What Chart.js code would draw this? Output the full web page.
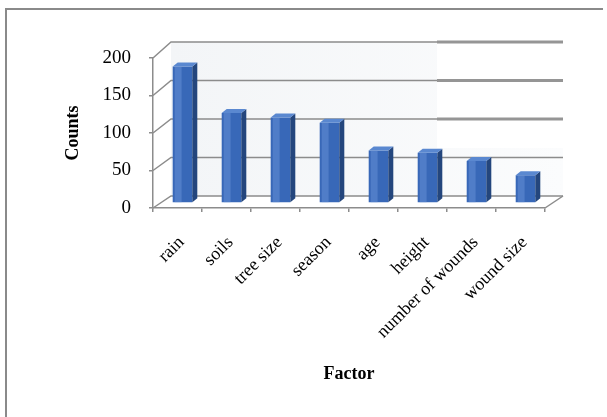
<!DOCTYPE html>
<html>
<head>
<meta charset="utf-8">
<script src="https://cdn.jsdelivr.net/npm/chart.js@4.4.1/dist/chart.umd.min.js"></script>
<style>
  html, body { margin: 0; padding: 0; background: #fff; }
  canvas { display: block; }
</style>
</head>
<body>
<canvas id="factorChart" width="607" height="417"></canvas>
<script>
// Data
const categories = ["rain", "soils", "tree size", "season", "age", "height", "number of wounds", "wound size"];
const counts = [182, 120, 114, 107, 70, 67, 56, 37];
const yTicks = [0, 50, 100, 150, 200];

const serif = "'Liberation Serif', 'Times New Roman', serif";
const gridGray = "#8c8c8c";

// fake 3D depth: back wall offset and bar offset
const wallDx = 18;
const barDx = 5, barDy = -5;
const faceDx = 5, faceDy = -4;

// back wall y from front y (a bit of perspective like Excel)
const backY = (yf, area) => {
  const base = area.bottom - 12;
  return base - (area.bottom - yf) * (154 / 150);
};

const frame = {
  id: "frame",
  beforeDraw(chart) {
    const ctx = chart.ctx;
    ctx.save();
    ctx.fillStyle = "#fff";
    ctx.fillRect(0, 0, chart.width, chart.height);
    ctx.strokeStyle = "#8a8a8a";
    ctx.lineWidth = 2;
    ctx.beginPath();
    ctx.moveTo(6, chart.height);
    ctx.lineTo(6, 9);
    ctx.lineTo(603, 9);
    ctx.stroke();
    ctx.restore();
  },
};

const walls3d = {
  id: "walls3d",
  beforeDatasetsDraw(chart) {
    const ctx = chart.ctx;
    const area = chart.chartArea;
    const y = chart.scales.y;
    const left = area.left, right = area.right;
    ctx.save();

    // back wall
    const topB = backY(y.getPixelForValue(200), area);
    const botB = backY(y.getPixelForValue(0), area);
    const g = ctx.createLinearGradient(left + wallDx, 0, right + wallDx, 0);
    g.addColorStop(0, "#f3f5f7");
    g.addColorStop(1, "#fbfcfd");
    ctx.fillStyle = g;
    ctx.fillRect(left + wallDx, topB, right - left, botB - topB);

    ctx.strokeStyle = gridGray;
    ctx.lineWidth = 1.5;
    yTicks.forEach((v) => {
      const yf = y.getPixelForValue(v);
      const yb = backY(yf, area);
      ctx.beginPath();
      ctx.moveTo(left, yf);
      ctx.lineTo(left + wallDx, yb);
      ctx.lineTo(right + wallDx, yb);
      ctx.stroke();
    });
    // floor right edge
    ctx.beginPath();
    ctx.moveTo(right, area.bottom);
    ctx.lineTo(right + wallDx, botB);
    ctx.stroke();

    // the pasted-over strip on the right of the original
    const cut = 437;
    ctx.fillStyle = "#fff";
    ctx.fillRect(cut, 28, right + wallDx - cut + 1, 120);
    ctx.strokeStyle = "#959595";
    ctx.lineWidth = 3;
    [100, 150, 200].forEach((v) => {
      const yb = backY(y.getPixelForValue(v), area);
      ctx.beginPath();
      ctx.moveTo(cut, yb);
      ctx.lineTo(right + wallDx, yb);
      ctx.stroke();
    });

    // bars sit a little behind the front plane
    ctx.translate(barDx, barDy);
  },
  afterDatasetsDraw(chart) {
    const ctx = chart.ctx;
    const meta = chart.getDatasetMeta(0);
    meta.data.forEach((bar) => {
      const p = bar.getProps(["x", "y", "base", "width"], true);
      const l = p.x - p.width / 2, r = p.x + p.width / 2;
      // light stripe on the front face
      ctx.fillStyle = "rgba(110, 150, 220, 0.45)";
      ctx.fillRect(l + 2, p.y, p.width * 0.35, p.base - p.y);
      // side face
      ctx.fillStyle = "#24467d";
      ctx.beginPath();
      ctx.moveTo(r, p.y);
      ctx.lineTo(r + faceDx, p.y + faceDy);
      ctx.lineTo(r + faceDx, p.base + faceDy);
      ctx.lineTo(r, p.base);
      ctx.closePath();
      ctx.fill();
      // top face
      ctx.fillStyle = "#5a88d0";
      ctx.beginPath();
      ctx.moveTo(l, p.y);
      ctx.lineTo(l + faceDx, p.y + faceDy);
      ctx.lineTo(r + faceDx, p.y + faceDy);
      ctx.lineTo(r, p.y);
      ctx.closePath();
      ctx.fill();
    });
    ctx.restore();
  },
};

const ctx = document.getElementById("factorChart").getContext("2d");
new Chart(ctx, {
  type: "bar",
  data: {
    labels: categories,
    datasets: [
      {
        label: "Counts",
        data: counts,
        backgroundColor: "#3868b8",
        borderWidth: 0,
        categoryPercentage: 1,
        barPercentage: 0.4,
      },
    ],
  },
  options: {
    responsive: false,
    animation: false,
    devicePixelRatio: 1,
    layout: { padding: { left: 50, top: 58, right: 62, bottom: 0 } },
    plugins: {
      legend: { display: false },
      tooltip: { enabled: false },
    },
    scales: {
      x: {
        grid: { display: true, drawOnChartArea: false, offset: true, tickLength: 4, color: gridGray, lineWidth: 1.5 },
        border: { color: gridGray, width: 1.5 },
        ticks: {
          color: "#000",
          font: { family: serif, size: 18 },
          minRotation: 45,
          maxRotation: 45,
          padding: 20,
          labelOffset: 4,
        },
        title: {
          display: true,
          text: "Factor",
          color: "#000",
          font: { family: serif, size: 18, weight: "bold" },
          padding: { top: 0, bottom: 32 },
        },
        afterFit: (s) => { s.height = 209; },
      },
      y: {
        min: 0,
        max: 200,
        grid: { display: true, drawOnChartArea: false, tickLength: 4, color: gridGray, lineWidth: 1.5 },
        border: { color: gridGray, width: 1.5 },
        ticks: {
          stepSize: 50,
          color: "#000",
          font: { family: serif, size: 19 },
          padding: 18,
        },
        title: {
          display: true,
          text: "Counts",
          color: "#000",
          font: { family: serif, size: 18, weight: "bold" },
          padding: { top: 13, bottom: 0 },
        },
        afterFit: (s) => { s.width = 103; },
      },
    },
  },
  plugins: [frame, walls3d],
});
</script>
</body>
</html>
